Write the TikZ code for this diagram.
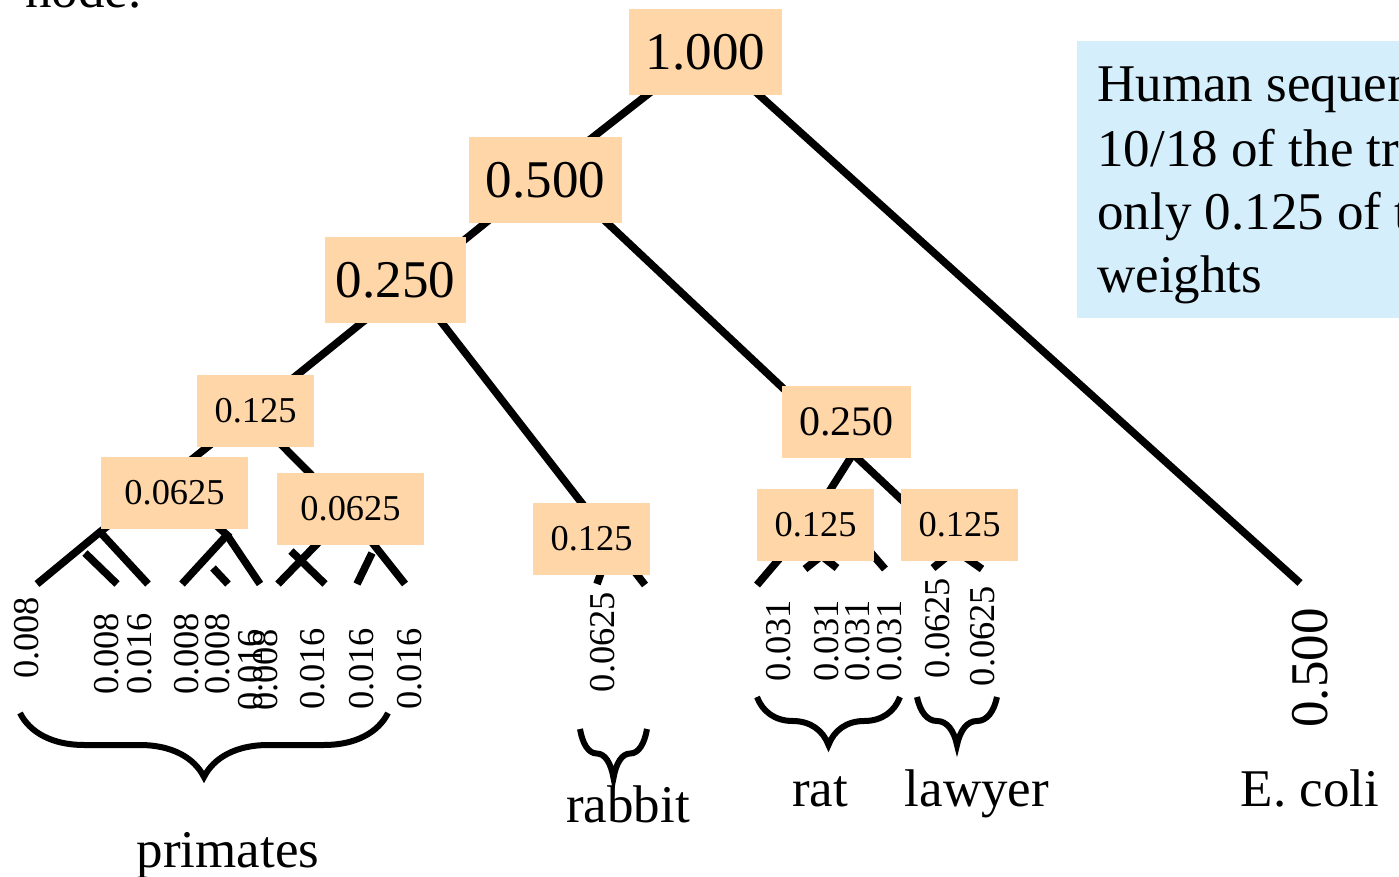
\documentclass[tikz,border=0pt]{standalone}
\usepackage{fontspec}
\setmainfont{Liberation Serif}
\usetikzlibrary{decorations.pathreplacing}
\definecolor{wfill}{RGB}{255,214,168}
\definecolor{notefill}{RGB}{213,238,251}
\newcommand{\bigsz}{\fontsize{26.5}{32}\selectfont}
\newcommand{\midsz}{\fontsize{21}{25}\selectfont}
\newcommand{\smallsz}{\fontsize{18.2}{22}\selectfont}

\begin{document}
\begin{tikzpicture}[x=0.5pt, y=-0.5pt,
  edge/.style={line width=3.8pt},
  wbig/.style={fill=wfill, inner sep=0pt, minimum width=76.5pt, minimum height=43pt, font=\bigsz},
  wmid/.style={fill=wfill, inner sep=0pt, minimum width=64.5pt, minimum height=36pt, font=\midsz},
  wsmall/.style={fill=wfill, inner sep=0pt, minimum width=58.5pt, minimum height=36pt, font=\smallsz},
  leafw/.style={rotate=90, inner sep=0pt, font=\smallsz},
  grp/.style={decorate, decoration={brace, mirror, amplitude=#1}, line width=3pt},
  grplabel/.style={anchor=base, inner sep=0pt, font=\bigsz},
  notetext/.style={anchor=base west, inner sep=0pt, font=\bigsz}]
  \useasboundingbox (0,0) rectangle (1399,877);
  \clip (0,0) rectangle (1399,877);

  \node[anchor=base west, inner sep=0pt, font=\bigsz] (head) at (25,8) {node.};

  % tree junctions
  \coordinate (t1) at (707,48);
  \coordinate (t2) at (551,170);
  \coordinate (t3) at (411,283);
  \coordinate (t4) at (250,413);
  \coordinate (t5) at (166,480);
  \coordinate (t5a) at (100,532);
  \coordinate (t5b) at (227,535);
  \coordinate (t6) at (348,512);
  \coordinate (t7) at (612,542);
  \coordinate (t8) at (853,454);
  \coordinate (t9) at (808,525);
  \coordinate (t10) at (955,550);

  % leaf ends
  \coordinate (l1) at (37,584);
  \coordinate (l2) at (148,584);
  \coordinate (l3) at (182,584);
  \coordinate (l4) at (260,584);
  \coordinate (l5) at (278,584);
  \coordinate (l6) at (405,584);
  \coordinate (s1) at (85,553);    \coordinate (s1e) at (117,584);
  \coordinate (s2) at (213,568);   \coordinate (s2e) at (228,584);
  \coordinate (s3) at (291,551);   \coordinate (s3e) at (325,584);
  \coordinate (s4) at (372,553);   \coordinate (s4e) at (357,584);
  \coordinate (rb1) at (597,584);
  \coordinate (rb2) at (645,585);
  \coordinate (r1) at (757,585);
  \coordinate (r2s) at (860,525);  \coordinate (r2) at (805,569);
  \coordinate (r3s) at (782,525);  \coordinate (r3) at (837,568);
  \coordinate (r4s) at (847,525);  \coordinate (r4) at (885,569);
  \coordinate (y1) at (933,568);
  \coordinate (y2) at (982,569);
  \coordinate (ec) at (1300,583);

  \draw[edge] (t1) -- (t2) -- (t3) -- (t4) -- (t5) -- (t5a) -- (l1);
  \draw[edge] (t1) -- (ec);
  \draw[edge] (t2) -- (t8);
  \draw[edge] (t3) -- (t7);
  \draw[edge] (t4) -- (t6);
  \draw[edge] (t5a) -- (l2);
  \draw[edge] (t5) -- (t5b) -- (l3);
  \draw[edge] (t5b) -- (l4);
  \draw[edge] (t6) -- (l5);
  \draw[edge] (t6) -- (l6);
  \draw[edge] (s1) -- (s1e);
  \draw[edge] (s2) -- (s2e);
  \draw[edge] (s3) -- (s3e);
  \draw[edge] (s4) -- (s4e);
  \draw[edge] (t7) -- (rb1);
  \draw[edge] (t7) -- (rb2);
  \draw[edge] (t8) -- (t9) -- (r1);
  \draw[edge] (r2s) -- (r2);
  \draw[edge] (r3s) -- (r3);
  \draw[edge] (r4s) -- (r4);
  \draw[edge] (t8) -- (t10) -- (y1);
  \draw[edge] (t10) -- (y2);

  % weight boxes
  \node[wbig] (w1) at (705.5,52) {1.000};
  \node[wbig] (w2) at (545.5,180) {0.500};
  \node[wbig, minimum width=70.5pt] (w3) at (395.5,280) {0.250};
  \node[wsmall] (w4) at (255.5,411) {0.125};
  \node[wsmall, minimum width=73.5pt] (w5) at (174.5,493) {0.0625};
  \node[wsmall, minimum width=73.5pt] (w6) at (350.5,509) {0.0625};
  \node[wsmall] (w7) at (591.5,539) {0.125};
  \node[wmid] (w8) at (846.5,422) {0.250};
  \node[wsmall] (w9) at (815.5,525) {0.125};
  \node[wsmall] (w10) at (959.5,525) {0.125};

  % leaf weights
  \node[leafw] (p1) at (27,638) {0.008};
  \node[leafw] (p2) at (107,654) {0.008};
  \node[leafw] (p3) at (140,654) {0.016};
  \node[leafw] (p4) at (187,654) {0.008};
  \node[leafw] (p5) at (218,654) {0.008};
  \node[leafw] (p6) at (251,670) {0.016};
  \node[leafw] (p7) at (266,670) {0.008};
  \node[leafw] (p8) at (313,669) {0.016};
  \node[leafw] (p9) at (362,669) {0.016};
  \node[leafw] (p10) at (410,669) {0.016};
  \node[leafw] (b1) at (603,642) {0.0625};
  \node[leafw] (q1) at (779,641) {0.031};
  \node[leafw] (q2) at (827,641) {0.031};
  \node[leafw] (q3) at (858,641) {0.031};
  \node[leafw] (q4) at (890,641) {0.031};
  \node[leafw] (v1) at (938,628) {0.0625};
  \node[leafw] (v2) at (983,636) {0.0625};
  \node[leafw, font=\bigsz] (e1) at (1310,668) {0.500};

  % groups
  \draw[grp=32pt] (20,713) -- (388,713);
  \draw[grp=24.5pt] (580,729) -- (647,729);
  \draw[grp=24pt] (757,697) -- (900,697);
  \draw[grp=24pt] (917,697) -- (997,697);
  \node[grplabel] (primates) at (228,867) {primates};
  \node[grplabel] (rabbit) at (628,822) {rabbit};
  \node[grplabel] (rat) at (820,806) {rat};
  \node[grplabel] (lawyer) at (977,806) {lawyer};
  \node[grplabel] (ecoli) at (1310,806) {E. coli};

  % note
  \node[fill=notefill, anchor=north west, inner sep=0pt, minimum width=171.5pt, minimum height=138.5pt] (note) at (1077,41) {};
  \node[notetext] (note1) at (1097,102) {Human sequences};
  \node[notetext] (note2) at (1097,167) {10/18 of the tree};
  \node[notetext] (note3) at (1097,230) {only 0.125 of the};
  \node[notetext] (note4) at (1097,293) {weights};
\end{tikzpicture}
\end{document}
